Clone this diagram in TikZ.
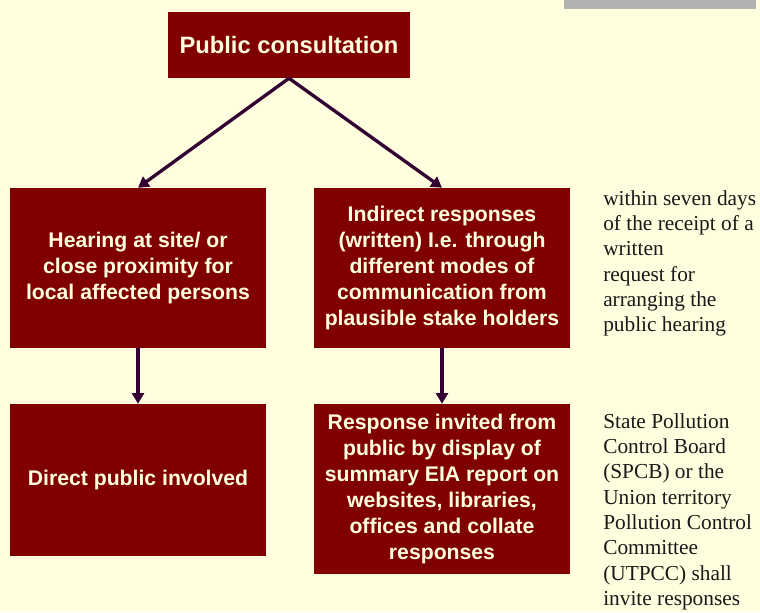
\documentclass[tikz,border=0pt]{standalone}
\usepackage{fontspec}
\setmainfont{Liberation Serif}
\newfontfamily\boxfont{Liberation Sans}
\usepackage{tikz}
\usetikzlibrary{arrows.meta}
\usetikzlibrary{positioning}

\definecolor{pagebg}{RGB}{255,255,224}
\definecolor{boxred}{RGB}{128,0,0}
\definecolor{boxtext}{RGB}{255,255,224}
\definecolor{linkc}{RGB}{51,0,51}
\definecolor{bargrey}{RGB}{178,178,178}

\begin{document}
\begin{tikzpicture}[x=0.75pt, y=-0.75pt,
        step box/.style={rectangle, fill=boxred, text=boxtext, inner sep=0pt, minimum width=192pt, align=center, font=\boxfont\bfseries\fontsize{15.9}{19.5}\selectfont},
        head box/.style={step box, minimum width=181.5pt, minimum height=49.5pt, font=\boxfont\bfseries\fontsize{17.8}{21}\selectfont},
        note/.style={anchor=north west, inner sep=0pt, align=left, text=black!90, font=\fontsize{16}{19}\selectfont},
        link/.style={-{Triangle[length=8pt, width=9pt]}, line width=2.5pt, draw=linkc}
      ]
        \useasboundingbox[fill=pagebg] (0, 0) rectangle (760, 612);
        \fill[bargrey] (564, 0) rectangle (756, 9);

        \node[head box]  (consult)  at (289, 45)                              {Public consultation};
        \node[step box]  (hearing)  at (138, 268)  [minimum height=120pt]     {Hearing at site/ or\\close proximity for\\local affected persons};
        \node[step box]  (indirect) at (442, 268)  [minimum height=120pt]     {Indirect responses\\(written) I.e. through\\different modes of\\communication from\\plausible stake holders};
        \node[step box]  (direct)   at (138, 480)  [minimum height=114pt]     {Direct public involved};
        \node[step box]  (invited)  at (442, 489)  [minimum height=127.5pt]   {Response invited from\\public by display of\\summary EIA report on\\websites, libraries,\\offices and collate\\responses};

        \draw[link]  (consult.south) -- (hearing.north);
        \draw[link]  (consult.south) -- (indirect.north);
        \draw[link]  (hearing.south) -- (direct.north);
        \draw[link]  (indirect.south) -- (invited.north);

        \node[note]  (within) at (603, 190)  {within seven days\\of the receipt of a\\written\\request for\\arranging the\\public hearing};
        \node[note]  (spcb)   at (603, 413)  {State Pollution\\Control Board\\(SPCB) or the\\Union territory\\Pollution Control\\Committee\\(UTPCC) shall\\invite responses};
      \end{tikzpicture}
\end{document}
